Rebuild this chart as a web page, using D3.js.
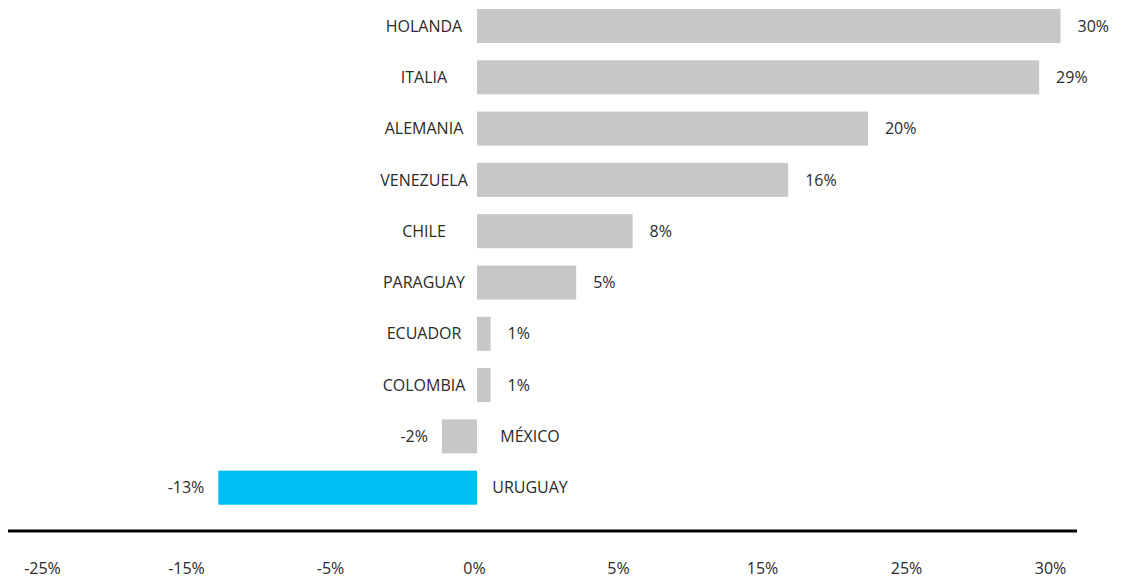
<!DOCTYPE html>
<html>
<head>
<meta charset="utf-8">
<script src="https://cdn.jsdelivr.net/npm/d3@7"></script>
<style>
  body { margin: 0; background: #fff; }
  text { font-family: "Open Sans", sans-serif; fill: #2a2a2a; }
</style>
</head>
<body>
<div id="chart"></div>
<script>
var categories = ['HOLANDA', 'ITALIA', 'ALEMANIA', 'VENEZUELA', 'CHILE', 'PARAGUAY', 'ECUADOR', 'COLOMBIA', 'MÉXICO', 'URUGUAY'];
var values     = [30.0, 28.9, 20.1, 16.0, 8.0, 5.1, 0.7, 0.7, -1.8, -13.3];
var labels     = ['30%', '29%', '20%', '16%', '8%', '5%', '1%', '1%', '-2%', '-13%'];
var tick_labels = ['-25%', '-15%', '-5%', '0%', '5%', '15%', '25%', '30%'];
var highlight  = 'URUGUAY';

var width  = 1121;
var height = 581;
var zero_x = 477;
var px_per = 19.45;

var svg = d3.select('#chart')
    .append('svg')
    .attr('width', width)
    .attr('height', height);

// scales
var scale_x = d3.scaleLinear()
    .domain([-15, 30])
    .range([zero_x - 15 * px_per, zero_x + 30 * px_per]);

var scale_y = d3.scaleBand()
    .domain(categories)
    .range([0.35, 513.35])
    .paddingInner(0.337)
    .paddingOuter(0.1685);

var rows = categories.map(function(c, i) {
    return { name: c, value: values[i], label: labels[i] };
});

// bars
svg.append('g')
    .selectAll('rect')
    .data(rows)
    .enter()
    .append('rect')
    .attr('x', function(d) { return scale_x(Math.min(0, d.value)); })
    .attr('y', function(d) { return scale_y(d.name); })
    .attr('width', function(d) { return Math.abs(scale_x(d.value) - scale_x(0)); })
    .attr('height', scale_y.bandwidth())
    .attr('fill', function(d) { return d.name === highlight ? '#00BEF2' : '#C6C7C9'; });

// category names, on the other side of zero
svg.append('g')
    .selectAll('text')
    .data(rows)
    .enter()
    .append('text')
    .attr('x', function(d) { return d.value >= 0 ? scale_x(0) - 53 : scale_x(0) + 53; })
    .attr('y', function(d) { return scale_y(d.name) + scale_y.bandwidth() / 2; })
    .attr('dy', '0.35em')
    .attr('text-anchor', 'middle')
    .style('font-size', '16px')
    .text(function(d) { return d.name; });

// value labels
svg.append('g')
    .selectAll('text')
    .data(rows)
    .enter()
    .append('text')
    .attr('x', function(d) { return d.value >= 0 ? scale_x(d.value) + 17 : scale_x(d.value) - 14; })
    .attr('y', function(d) { return scale_y(d.name) + scale_y.bandwidth() / 2; })
    .attr('dy', '0.35em')
    .attr('text-anchor', function(d) { return d.value >= 0 ? 'start' : 'end'; })
    .style('font-size', '16px')
    .text(function(d) { return d.label; });

// axis line
svg.append('line')
    .attr('x1', 8)
    .attr('x2', 1077)
    .attr('y1', 531)
    .attr('y2', 531)
    .attr('stroke', '#000')
    .attr('stroke-width', 3);

// tick labels (evenly spaced, as in the original)
var scale_ticks = d3.scalePoint()
    .domain(tick_labels)
    .range([42, 1050]);

var axis_x = d3.axisBottom(scale_ticks).tickSize(0).tickPadding(0);

svg.append('g')
    .attr('class', 'x-axis')
    .attr('transform', 'translate(0, 563)')
    .call(axis_x)
    .call(function(g) { g.select('.domain').remove(); })
    .selectAll('text')
    .style('font-size', '16px')
    .style('font-family', '"Open Sans", sans-serif')
    .attr('fill', '#2a2a2a');
</script>
</body>
</html>
